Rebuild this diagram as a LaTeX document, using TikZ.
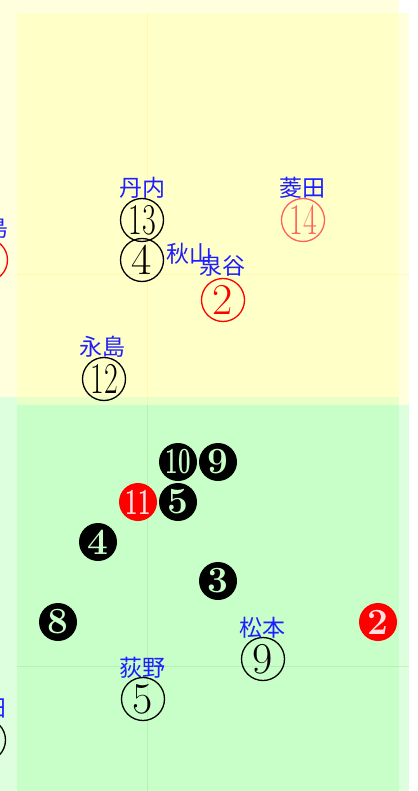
\documentclass[tikz,border=0pt]{standalone}
\usepackage{fontspec}
\newfontfamily\jp{Noto Sans CJK JP}
\definecolor{yel}{HTML}{FFFF99}
\definecolor{grn}{HTML}{99FF99}
\definecolor{lblue}{RGB}{30,30,255}
\definecolor{lred}{HTML}{FF6060}
\definecolor{cutg}{HTML}{C8FFC8}
\definecolor{cutr}{HTML}{FFE0E0}
\begin{document}
\begin{tikzpicture}[x=1pt,y=-1pt,
  zone/.style={opacity=0.32},
  faint/.style={line width=0.8pt, opacity=0.25},
  circnum/.style={circle, draw, line width=1.3pt, minimum size=43pt, inner sep=0pt,
    font=\fontsize{44}{44}\selectfont},
  disc/.style={circle, fill=black, minimum size=38pt, inner sep=0pt,
    text=cutg, font=\fontsize{37}{37}\selectfont\bfseries},
  rdisc/.style={disc, fill=red, text=cutr},
  lbl/.style={text=lblue, inner sep=0pt, font=\jp\fontsize{23}{23}\selectfont}]
\useasboundingbox (0,0) rectangle (417,791);
% outer zones
\fill[yel, zone] (0,0) rectangle (399,397);
\fill[grn, zone] (0,397) rectangle (399,791);
% inner zones
\fill[yel, zone] (17,13) rectangle (409,405);
\fill[grn, zone] (17,405) rectangle (409,791);
% faint lines
\draw[faint, yel!80!orange] (147,13) -- (147,405);
\draw[faint, yel!80!orange] (17,274) -- (409,274);
\draw[faint, grn!80!black] (147,405) -- (147,791);
\draw[faint, grn!80!black] (17,666) -- (409,666);

% yellow zone
\node[circnum] (n13) at (142,220) {\scalebox{0.68}[1]{13}};
\node[lbl] (tannai) at (142,188) {丹内};
\node[circnum] (n4) at (142,260) {4};
\node[lbl] (akiyama) at (189,254) {秋山};
\node[circnum, draw=red, text=red] (n2) at (223,300) {2};
\node[lbl] (izumiya) at (222,266) {泉谷};
\node[circnum, draw=lred, text=lred] (n14) at (303,220) {\scalebox{0.68}[1]{14}};
\node[lbl] (hishida) at (302,188) {菱田};
\node[circnum] (n12) at (104,379) {\scalebox{0.68}[1]{12}};
\node[lbl] (nagashima) at (102,347) {永島};
\node[circnum, draw=red, text=red] (nl) at (-14,260) {\scalebox{0.68}[1]{10}};
\node[lbl] (lname) at (-14,228) {中島};

% green zone
\node[disc] (d10) at (178,462) {\scalebox{0.6}[1]{10}};
\node[disc] (d9) at (218,462) {9};
\node[rdisc] (d11) at (138,502) {\scalebox{0.6}[1]{11}};
\node[disc] (d5) at (178,502) {5};
\node[disc] (d4) at (98,542) {4};
\node[disc] (d3) at (218,581) {3};
\node[disc] (d8) at (58,622) {8};
\node[rdisc] (d2) at (378,622) {2};
\node[circnum] (n9) at (263,659) {9};
\node[lbl] (matsumoto) at (262,628) {松本};
\node[circnum] (n5) at (143,699) {5};
\node[lbl] (ogino) at (142,668) {荻野};
\node[circnum] (nb) at (-16,740) {\scalebox{0.68}[1]{10}};
\node[lbl] (bname) at (-16,708) {山田};
\end{tikzpicture}
\end{document}
